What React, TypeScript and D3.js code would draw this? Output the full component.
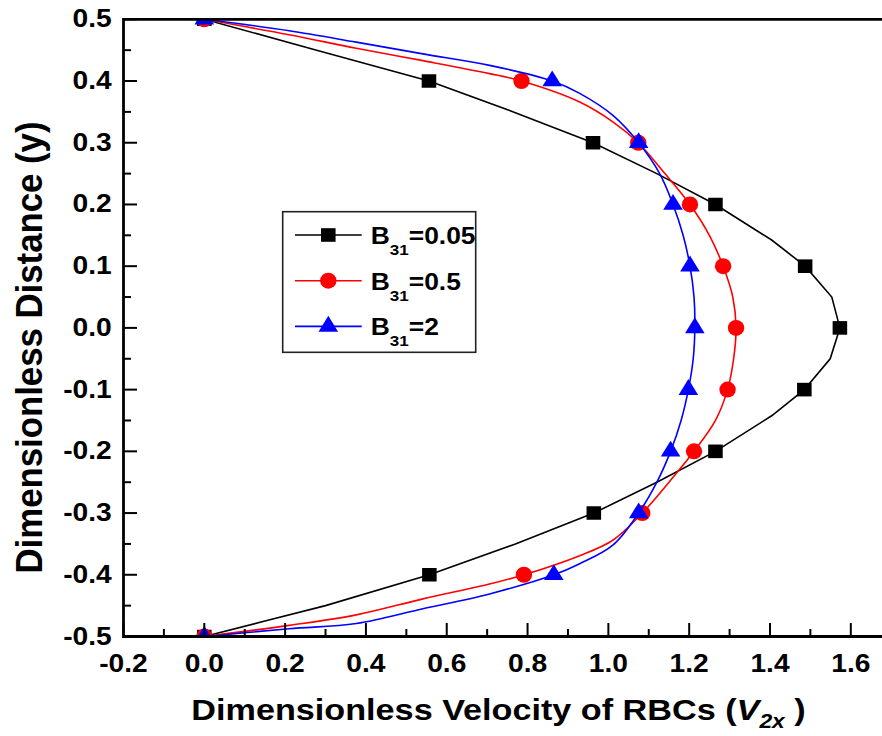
import React, { useEffect } from "react";
import * as d3 from "d3";

const markerY = [0.5, 0.4, 0.3, 0.2, 0.1, 0.0, -0.1, -0.2, -0.3, -0.4, -0.5];
const b005MarkV = [0, 0.556, 0.962, 1.265, 1.487, 1.573, 1.485, 1.265, 0.964, 0.557, 0];
const b05MarkV = [0, 0.785, 1.074, 1.202, 1.284, 1.316, 1.295, 1.212, 1.084, 0.791, 0];
const b2MarkV = [0, 0.861, 1.075, 1.16, 1.202, 1.214, 1.198, 1.154, 1.075, 0.865, 0];

const b005LineY = [0.5, 0.45, 0.4, 0.35, 0.3, 0.25, 0.2, 0.142, 0.1, 0.05, 0, -0.05, -0.1, -0.142, -0.2, -0.25, -0.3, -0.35, -0.4, -0.45, -0.475, -0.5];
const b005LineV = [0, 0.278, 0.556, 0.765, 0.962, 1.12, 1.265, 1.405, 1.487, 1.553, 1.573, 1.549, 1.485, 1.405, 1.265, 1.12, 0.964, 0.77, 0.557, 0.3, 0.15, 0];

const b05LineY = [0.5, 0.475, 0.453, 0.433, 0.412, 0.4, 0.366, 0.3335, 0.3, 0.25, 0.2, 0.15, 0.1, 0.05, 0, -0.05, -0.1, -0.15, -0.2, -0.25, -0.3, -0.344, -0.369, -0.4, -0.415, -0.439, -0.465, -0.482, -0.5];
const b05LineV = [0, 0.21, 0.376, 0.541, 0.706, 0.785, 0.929, 1.012, 1.074, 1.14, 1.202, 1.25, 1.284, 1.308, 1.316, 1.31, 1.295, 1.265, 1.212, 1.15, 1.084, 1.011, 0.929, 0.791, 0.706, 0.541, 0.376, 0.21, 0];

const b2LineY = [0.5, 0.4815, 0.463, 0.444, 0.4254, 0.4, 0.38, 0.344, 0.3, 0.25, 0.2, 0.15, 0.1, 0.05, 0, -0.05, -0.1, -0.15, -0.2, -0.25, -0.3, -0.352, -0.382, -0.4, -0.431, -0.455, -0.479, -0.4875, -0.5];
const b2LineV = [0, 0.21, 0.376, 0.541, 0.706, 0.861, 0.929, 1.012, 1.075, 1.127, 1.16, 1.185, 1.202, 1.212, 1.214, 1.21, 1.198, 1.18, 1.154, 1.12, 1.075, 1.011, 0.929, 0.865, 0.706, 0.541, 0.376, 0.21, 0];

const xTicks = [-0.2, 0, 0.2, 0.4, 0.6, 0.8, 1.0, 1.2, 1.4, 1.6];
const yTicks = [0.5, 0.4, 0.3, 0.2, 0.1, 0.0, -0.1, -0.2, -0.3, -0.4, -0.5];
const legendLabels = ["=0.05", "=0.5", "=2"];

const W = 882;
const H = 736;
const FONT = "'Liberation Sans', Arial, sans-serif";
const SX = 1.1; // horizontal stretch of the original picture

export default function App() {
  useEffect(() => {
    document.body.style.margin = "0";
  }, []);

  const x = d3.scaleLinear().domain([-0.2, 1.6]).range([123.5, 850.8]);
  const y = d3.scaleLinear().domain([-0.5, 0.5]).range([636.5, 19.3]);
  const xL = x(-0.2);
  const xR = x(1.7);
  const yT = y(0.5);
  const yB = y(-0.5);

  const series = [
    { lineY: b005LineY, lineV: b005LineV, markV: b005MarkV, color: "#000000", shape: "square", curve: d3.curveLinear },
    { lineY: b05LineY, lineV: b05LineV, markV: b05MarkV, color: "#ff0000", shape: "circle", curve: d3.curveCatmullRom },
    { lineY: b2LineY, lineV: b2LineV, markV: b2MarkV, color: "#0000ff", shape: "triangle", curve: d3.curveCatmullRom },
  ];

  const sq = d3.symbol().type(d3.symbolSquare).size(13.6 * 13.6)() as string;
  const tri = d3.symbol().type(d3.symbolTriangle).size(145)() as string;

  const marker = (shape: string, cx: number, cy: number, color: string, key: string) => {
    if (shape === "square") {
      return <path key={key} d={sq} transform={`translate(${cx},${cy}) scale(1.07,1)`} fill={color} />;
    }
    if (shape === "circle") {
      return <ellipse key={key} cx={cx} cy={cy} rx={8.2} ry={8} fill={color} />;
    }
    return <path key={key} d={tri} transform={`translate(${cx},${cy}) scale(1.07,1)`} fill={color} />;
  };

  const xMinor = d3.range(-0.2, 1.71, 0.1);
  const yMinor = d3.range(-0.5, 0.51, 0.05);

  const legX = 282.7;
  const legY = 211.7;
  const legW = 193;
  const legH = 140.6;

  return (
    <svg width={W} height={H} style={{ display: "block", position: "absolute", left: 0, top: 0 }} fontFamily={FONT}>
      <rect width={W} height={H} fill="#ffffff" />
      <defs>
        <clipPath id="plotclip">
          <rect x={xL} y={yT} width={xR - xL} height={yB - yT} />
        </clipPath>
      </defs>

      {/* data */}
      <g clipPath="url(#plotclip)">
        {series.map((s, si) => {
          const pts = s.lineY.map((yy, i) => [s.lineV[i], yy] as [number, number]);
          const line = d3
            .line<[number, number]>()
            .x((d) => x(d[0]))
            .y((d) => y(d[1]))
            .curve(s.curve);
          return (
            <g key={si}>
              <path d={line(pts) as string} fill="none" stroke={s.color} strokeWidth={1.6} />
              {s.markV.map((v, i) => marker(s.shape, x(v), y(markerY[i]), s.color, `m${si}-${i}`))}
            </g>
          );
        })}
      </g>

      {/* axes */}
      <g stroke="#000" strokeWidth={2.8} fill="none">
        <line x1={xL} y1={yB} x2={xR} y2={yB} />
        <line x1={xL} y1={yT} x2={xR} y2={yT} />
        <line x1={xL} y1={yT - 1.4} x2={xL} y2={yB + 1.4} />
      </g>
      <g stroke="#000" strokeWidth={2}>
        {xMinor.map((t, i) => {
          const major = Math.abs(Math.round(t * 10)) % 2 === 0;
          return <line key={i} x1={x(t)} x2={x(t)} y1={yB} y2={yB - (major ? 13.5 : 7.5)} />;
        })}
        {yMinor.map((t, i) => {
          const major = Math.abs(Math.round(t * 20)) % 2 === 0;
          return <line key={i} x1={xL} x2={xL + (major ? 13.5 : 7.5)} y1={y(t)} y2={y(t)} />;
        })}
      </g>

      <g fontSize={25.6} fontWeight="bold" fill="#000">
        {xTicks.map((t, i) => (
          <text key={i} transform={`translate(${x(t)},671.7) scale(${SX},1)`} textAnchor="middle">
            {t.toFixed(1)}
          </text>
        ))}
        {yTicks.map((t, i) => (
          <text key={i} transform={`translate(111.7,${y(t) + 8}) scale(${SX},1)`} textAnchor="end">
            {t.toFixed(1)}
          </text>
        ))}
      </g>

      {/* axis titles */}
      <text
        transform={`translate(498.5,720) scale(1.14,1)`}
        fontSize={30}
        fontWeight="bold"
        textAnchor="middle"
        fill="#000"
      >
        Dimensionless Velocity of RBCs (
        <tspan fontStyle="italic">V</tspan>
        <tspan fontStyle="italic" fontSize={20} dy={8}>2x</tspan>
        <tspan dy={-8}> )</tspan>
      </text>
      <text
        transform={`translate(41.7,347.5) rotate(-90)`}
        fontSize={36}
        fontWeight="bold"
        textAnchor="middle"
        textLength={452}
        lengthAdjust="spacingAndGlyphs"
        fill="#000"
      >
        Dimensionless Distance (y)
      </text>

      {/* legend */}
      <rect x={legX} y={legY} width={legW} height={legH} fill="#fff" stroke="#222" strokeWidth={1.6} />
      {series.map((s, i) => {
        const ly = 235 + i * 45.7;
        return (
          <g key={i}>
            <line x1={295} x2={361.7} y1={ly} y2={ly} stroke={s.color} strokeWidth={1.6} />
            {marker(s.shape, 328.3, ly, s.color, `lg${i}`)}
            <text transform={`translate(370.7,${ly + 9}) scale(${SX},1)`} fontSize={24} fontWeight="bold" fill="#000">
              B
              <tspan fontSize={15.5} dy={11}>31</tspan>
              <tspan dy={-11}>{legendLabels[i]}</tspan>
            </text>
          </g>
        );
      })}
    </svg>
  );
}
